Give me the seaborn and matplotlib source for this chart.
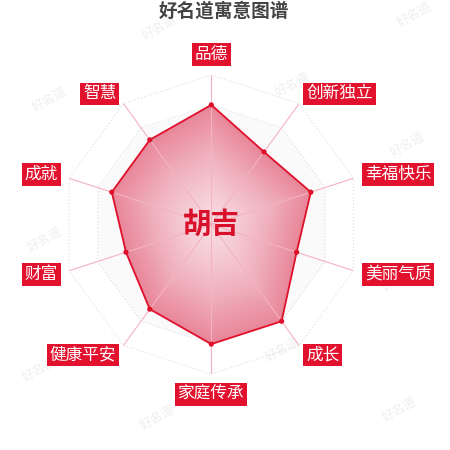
import numpy as np
import pandas as pd
import matplotlib
matplotlib.use('Agg')
import matplotlib.pyplot as plt
import matplotlib.colors as mcolors
import seaborn as sns

# chart data (scores out of 10)
categories = ['品德', '创新独立', '幸福快乐', '美丽气质', '成长',
              '家庭传承', '健康平安', '财富', '成就', '智慧']
scores = [8, 6, 7, 6, 8, 8, 7, 6, 7, 7]
name = '胡吉'
title = '好名道寓意图谱'
max_score = 10
ring_levels = [2, 4, 6, 8, 10]

sns.set_theme(style='white')
plt.rcParams['font.family'] = ['Noto Sans CJK SC', 'DejaVu Sans']

n = len(categories)
theta = np.linspace(0, 2 * np.pi, n, endpoint=False)
df = pd.DataFrame({'theta': theta, 'score': scores, 'category': categories})
closed = pd.concat([df, df.iloc[[0]].assign(theta=2 * np.pi)], ignore_index=True)

fig = plt.figure(figsize=(4.5, 4.5), dpi=100)
cx, cy, rad = 211.3 / 450, 1 - 224.5 / 450, 149.5 / 450
ax = fig.add_axes([cx - rad, cy - rad, 2 * rad, 2 * rad], projection='polar')
ax.set_theta_offset(np.pi / 2)
ax.set_theta_direction(-1)
ax.set_ylim(0, max_score)
ax.grid(False)
ax.spines['polar'].set_visible(False)
ax.set_xticks([])
ax.set_yticks([])
ax.patch.set_alpha(0)

# split area bands + dotted rings
ring_theta = np.append(theta, 2 * np.pi)
prev = 0
for i, lv in enumerate(ring_levels):
    if i % 2 == 1:
        ax.fill_between(ring_theta, prev, lv, color='#fafafa', lw=0, zorder=0)
    ax.plot(ring_theta, [lv] * (n + 1), ls=(0, (1, 2)), color='#dddddd', lw=0.8, zorder=1)
    prev = lv

# radial gradient fill of the score polygon
edge_c = np.array(mcolors.to_rgb('#e8879a'))
center_c = np.array(mcolors.to_rgb('#f8dde3'))
steps = 40
for k in np.linspace(1, 0.02, steps):
    c = center_c + (edge_c - center_c) * k ** 1.3
    ax.fill(closed['theta'], closed['score'] * k, color=c, lw=0, zorder=2)

# axis lines
for t in theta:
    ax.plot([t, t], [0, max_score], color='#f3b3c0', lw=0.8, zorder=3)

sns.lineplot(data=closed, x='theta', y='score', sort=False, estimator=None,
             color='#e0102a', lw=1.3, ax=ax, zorder=4)
sns.scatterplot(data=df, x='theta', y='score', color='#e0102a', s=14,
                edgecolor='none', ax=ax, zorder=5)
ax.set_xlabel('')
ax.set_ylabel('')
ax.set_ylim(0, max_score)

# category labels
for t, lab in zip(theta, categories):
    x, y = np.sin(t), np.cos(t)
    ha = 'center' if abs(x) < 0.1 else ('left' if x > 0 else 'right')
    va = 'bottom' if y > 0.9 else ('top' if y < -0.9 else 'center')
    ax.text(t, max_score * 1.08, lab, ha=ha, va=va, fontsize=12, color='white',
            bbox=dict(boxstyle='square,pad=0.17', fc='#e2112d', ec='none'),
            zorder=6, clip_on=False)

ax.text(0, 0, name, ha='center', va='center', fontsize=20.5, fontweight='bold',
        color='#d8102a', zorder=6)

fig.text(0.498, 1 - 11 / 450, title, ha='center', va='center', fontsize=13.4,
         fontweight='bold', color='#444444')

# faint watermarks, behind everything
marks = [(160, 28), (415, 15), (293, 85), (50, 100), (408, 145), (45, 240),
         (400, 280), (40, 370), (283, 350), (158, 418), (400, 410)]
for mx, my in marks:
    fig.text(mx / 450, 1 - my / 450, '好名道', rotation=30, ha='center', va='center',
             fontsize=9, color='#efefef', zorder=-1)

fig.savefig('out.png', dpi=100, facecolor='white')
